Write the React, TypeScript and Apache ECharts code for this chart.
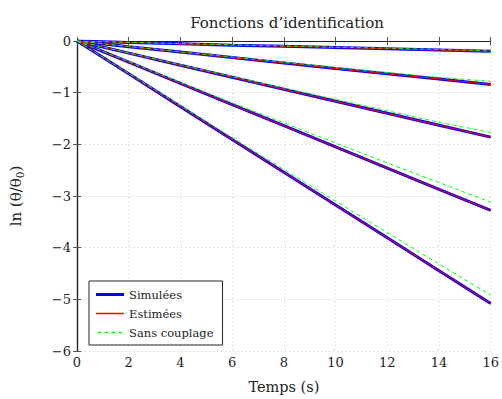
import React, { useEffect, useRef } from "react";
import * as echarts from "echarts";

const times = [0, 2, 4, 6, 8, 10, 12, 14, 16];

const simulees = [
  [0, -0.03, -0.055, -0.08, -0.10, -0.125, -0.15, -0.175, -0.20],
  [0, -0.11, -0.215, -0.32, -0.425, -0.53, -0.635, -0.735, -0.84],
  [0, -0.235, -0.47, -0.70, -0.935, -1.165, -1.40, -1.63, -1.86],
  [0, -0.41, -0.82, -1.23, -1.64, -2.05, -2.46, -2.87, -3.28],
  [0, -0.635, -1.27, -1.905, -2.54, -3.175, -3.81, -4.445, -5.08],
];

const estimees = [
  [0, -0.03, -0.055, -0.08, -0.10, -0.125, -0.15, -0.175, -0.20],
  [0, -0.11, -0.215, -0.32, -0.425, -0.53, -0.635, -0.735, -0.84],
  [0, -0.235, -0.47, -0.70, -0.935, -1.165, -1.40, -1.63, -1.86],
  [0, -0.41, -0.82, -1.23, -1.64, -2.05, -2.46, -2.87, -3.28],
  [0, -0.635, -1.27, -1.905, -2.54, -3.175, -3.81, -4.445, -5.08],
];

const sansCouplage = [
  [0, -0.025, -0.05, -0.075, -0.095, -0.12, -0.14, -0.165, -0.19],
  [0, -0.105, -0.21, -0.31, -0.41, -0.51, -0.61, -0.705, -0.78],
  [0, -0.23, -0.46, -0.685, -0.91, -1.13, -1.35, -1.575, -1.77],
  [0, -0.40, -0.80, -1.195, -1.585, -1.975, -2.36, -2.74, -3.12],
  [0, -0.625, -1.25, -1.87, -2.485, -3.10, -3.71, -4.315, -4.92],
];

const FONT = "DejaVu Serif";
const BLUE = "#0000ff";
const RED = "#ff0000";
const GREEN = "#00ff00";

const ICON_THICK = "path://M0,0H28V3H0Z";
const ICON_THIN = "path://M0,0M0,3M0,0.75H28V2.25H0Z";
const ICON_DASH =
  "path://M0,0M0,3M0,0.75H4V2.25H0Z M7,0.75H11V2.25H7Z M14,0.75H18V2.25H14Z M21,0.75H25V2.25H21Z";

export default function App() {
  const ref = useRef<HTMLDivElement>(null);
  useEffect(() => {
    document.body.style.margin = "0";
    const chart = echarts.init(ref.current!, null, { renderer: "svg" });
    const mk = (name: string, arr: number[][], color: string, lineStyle: any, z: number) =>
      arr.map((vals) => ({
        name,
        type: "line",
        color,
        data: times.map((t, i) => [t, vals[i]]),
        symbol: "none",
        lineStyle: { color, ...lineStyle },
        itemStyle: { color },
        z,
      }));
    const series = [
      ...mk("Simulées", simulees, BLUE, { width: 3 }, 2),
      ...mk("Estimées", estimees, RED, { width: 1 }, 3),
      ...mk("Sans couplage", sansCouplage, GREEN, { width: 1, type: [4, 3] }, 4),
    ];
    const axisCommon = {
      axisLine: { show: true, lineStyle: { color: "#222", width: 1.2 } },
      axisTick: { show: true, inside: true, length: 4, lineStyle: { color: "#555" } },
    };
    chart.setOption({
      animation: false,
      backgroundColor: "#ffffff",
      title: {
        text: "Fonctions d’identification",
        left: 282,
        textAlign: "center",
        top: 10,
        textStyle: { fontFamily: FONT, fontSize: 15, fontWeight: "normal", color: "#222" },
      },
      grid: { left: 77, right: 7, top: 41, bottom: 44 },
      legend: {
        data: [
          { name: "Simulées", icon: ICON_THICK, itemStyle: { color: BLUE } },
          { name: "Estimées", icon: ICON_THIN, itemStyle: { color: RED } },
          { name: "Sans couplage", icon: ICON_DASH, itemStyle: { color: GREEN } },
        ],
        orient: "vertical",
        left: 89,
        top: 281,
        backgroundColor: "#ffffff",
        borderColor: "#222",
        borderWidth: 1,
        borderRadius: 0,
        padding: [7, 9, 6, 7],
        itemGap: 6,
        itemWidth: 28,
        itemHeight: 3,
        textStyle: { fontFamily: FONT, fontSize: 11.5, color: "#222", lineHeight: 13 },
      },
      xAxis: [
        {
          type: "value",
          min: 0,
          max: 16,
          interval: 2,
          name: "Temps (s)",
          nameLocation: "middle",
          nameGap: 28,
          nameTextStyle: { fontFamily: FONT, fontSize: 14.5, color: "#222" },
          axisLabel: { fontFamily: FONT, fontSize: 13, color: "#222", margin: 5 },
          splitLine: { show: true, lineStyle: { color: "#cccccc", type: [1, 3] } },
          ...axisCommon,
        },
        {
          type: "value",
          position: "top",
          min: 0,
          max: 16,
          interval: 2,
          axisLabel: { show: false },
          splitLine: { show: false },
          ...axisCommon,
        },
      ],
      yAxis: [
        {
          type: "value",
          min: -6,
          max: 0,
          interval: 1,
          name: "{a|ln (θ/θ}{b|0}{a|)}",
          nameLocation: "middle",
          nameGap: 52,
          nameTextStyle: {
            rich: {
              a: { fontFamily: FONT, fontSize: 15, color: "#222" },
              b: { fontFamily: FONT, fontSize: 10.5, color: "#222", padding: [8, 0, 0, 0] },
            },
          },
          axisLabel: {
            fontFamily: FONT,
            fontSize: 13,
            color: "#222",
            margin: 6,
            formatter: (v: number) => (v < 0 ? "−" + Math.abs(v) : String(v)),
          },
          splitLine: { show: true, lineStyle: { color: "#cccccc", type: [1, 3] } },
          ...axisCommon,
        },
        {
          type: "value",
          position: "right",
          min: -6,
          max: 0,
          interval: 1,
          axisLabel: { show: false },
          splitLine: { show: false },
          ...axisCommon,
        },
      ],
      series,
    });
    return () => chart.dispose();
  }, []);
  return <div ref={ref} style={{ width: 502, height: 399 }} />;
}
